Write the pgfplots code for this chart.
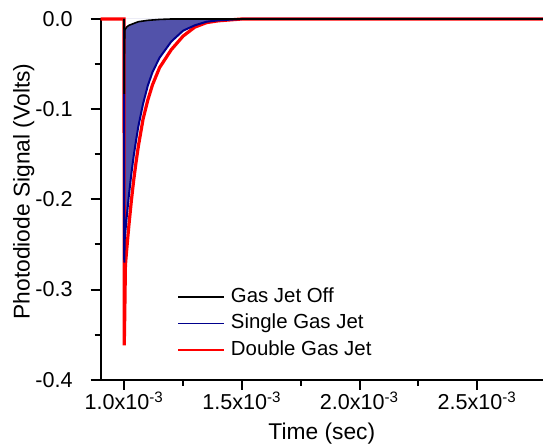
\documentclass[border=0pt]{standalone}
\usepackage{fontspec}
\setmainfont{Liberation Sans}
\usepackage{pgfplots}
\pgfplotsset{compat=1.18}
\usepackage{pgfplotstable}
\definecolor{jetfill}{RGB}{82,82,170}
\definecolor{jetnavy}{RGB}{0,0,140}

% time in ms (axis labels give seconds)
\pgfplotstableread{
t v
0.999 0
1.000 -0.083
1.001 -0.030
1.003 -0.012
1.010 -0.009
1.020 -0.007
1.040 -0.005
1.060 -0.003
1.100 -0.0015
1.150 -0.0005
1.200 0
2.780 0
}\jetoff

\pgfplotstableread{
t v
0.999 0
1.000 -0.270
1.002 -0.244
1.005 -0.235
1.010 -0.221
1.020 -0.195
1.030 -0.172
1.040 -0.152
1.050 -0.135
1.060 -0.119
1.080 -0.094
1.100 -0.074
1.120 -0.059
1.150 -0.043
1.200 -0.025
1.250 -0.013
1.300 -0.007
1.350 -0.003
1.400 -0.0015
1.500 0
2.780 0
}\jetsingle

\pgfplotstableread{
t v
0.900 0
0.999 0
1.000 -0.362
1.002 -0.330
1.005 -0.273
1.010 -0.257
1.020 -0.228
1.030 -0.202
1.040 -0.179
1.050 -0.159
1.060 -0.141
1.080 -0.111
1.100 -0.090
1.120 -0.073
1.150 -0.054
1.200 -0.034
1.250 -0.019
1.300 -0.009
1.350 -0.004
1.400 -0.002
1.500 0
2.780 0
}\jetdouble

\begin{document}
\begin{tikzpicture}
\path[use as bounding box] (-50.4pt,-33.5pt) rectangle (221.3pt,190pt);
\begin{axis}[
  scale only axis, width=221.3pt, height=180.5pt,
  xmin=0.9, xmax=2.78, ymin=-0.4, ymax=0,
  clip=false,
  axis lines*=left,
  axis line style={-, line width=1pt},
  tick align=outside,
  major tick length=5pt, minor tick length=3pt,
  tick style={line width=1pt, black},
  minor tick num=1,
  xtick={1,1.5,2,2.5},
  xticklabels={1.0x10\textsuperscript{-3},1.5x10\textsuperscript{-3},2.0x10\textsuperscript{-3},2.5x10\textsuperscript{-3}},
  ytick={-0.4,-0.3,-0.2,-0.1,0},
  yticklabels={-0.4,-0.3,-0.2,-0.1,0.0},
  tick label style={font=\fontsize{10.8}{13}\selectfont},
  xticklabel style={text height=7.8pt, text depth=0pt, yshift=1.2pt},
  yticklabel style={xshift=-5.5pt},
  label style={font=\fontsize{11.4}{13}\selectfont},
  xlabel={Time (sec)},
  xlabel style={at={(axis description cs:0.5,0)}, anchor=north, yshift=-18.3pt},
  ylabel={Photodiode Signal (Volts)},
  ylabel style={at={(axis description cs:-0.174,0.522)}, anchor=center},
  legend style={at={(axis description cs:0.172,0.257)}, anchor=north west,
    draw=none, fill=none, inner sep=0pt, row sep=3.8pt, column sep=3pt,
    font=\fontsize{10.2}{12}\selectfont,
    nodes={inner sep=0pt, text height=7.5pt, text depth=2pt}},
  legend cell align=left,
  legend image code/.code={\draw[#1] (0pt,0pt) -- (23pt,0pt);},
]
\addplot[fill=jetfill, draw=none, forget plot] table[x=t,y=v] {\jetsingle} \closedcycle;
\addplot[fill=white, draw=none, forget plot] table[x=t,y=v] {\jetoff} \closedcycle;
\addplot[red, line width=1.6pt, forget plot] table[x=t,y=v] {\jetdouble};
\addplot[jetnavy, line width=1pt, forget plot] table[x=t,y=v] {\jetsingle};
\addplot[black, line width=0.8pt, forget plot] table[x=t,y=v] {\jetoff};
\addlegendimage{black, line width=0.9pt}
\addlegendentry{Gas Jet Off}
\addlegendimage{jetnavy, line width=0.9pt}
\addlegendentry{Single Gas Jet}
\addlegendimage{red, line width=0.9pt}
\addlegendentry{Double Gas Jet}
\end{axis}
\end{tikzpicture}
\end{document}
